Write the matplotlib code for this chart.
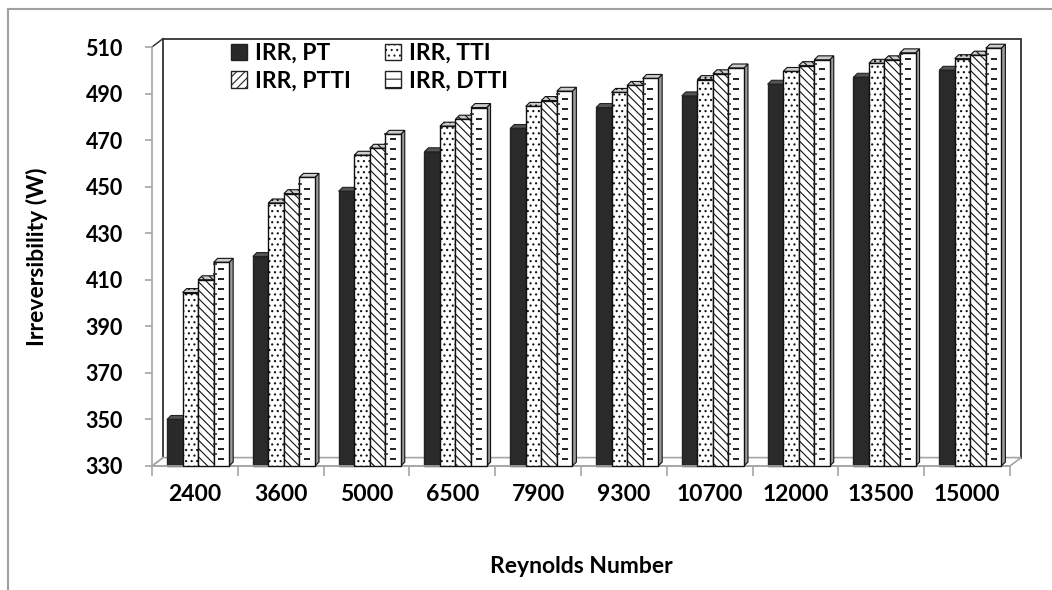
import matplotlib
matplotlib.use("Agg")
import matplotlib.pyplot as plt
from matplotlib.patches import Polygon, Rectangle, Patch
from matplotlib.lines import Line2D
import numpy as np

reynolds = ["2400", "3600", "5000", "6500", "7900", "9300", "10700", "12000", "13500", "15000"]
irr_pt = [350, 420, 448, 465, 475, 484, 489, 494, 497, 500]
irr_tti = [404.5, 443, 463.5, 476, 484.5, 490.5, 496, 499.5, 503, 505]
irr_ptti = [410, 447, 466.5, 479, 487, 493.5, 498.5, 502, 504.5, 506.5]
irr_dtti = [417.5, 454, 472.5, 484, 491, 496.5, 501, 504.5, 507.5, 509.5]
series_names = ["IRR, PT", "IRR, TTI", "IRR, PTTI", "IRR, DTTI"]
y_ticks = list(range(330, 511, 20))

plt.rcParams["font.family"] = ["Lato", "DejaVu Sans"]
plt.rcParams["font.weight"] = "bold"
plt.rcParams["hatch.linewidth"] = 0.8

fig = plt.figure(figsize=(10.52, 5.90), dpi=100)
ax = fig.add_axes([152 / 1052, 124 / 590, 858 / 1052, 419 / 590])
y_min, y_max = y_ticks[0], y_ticks[-1]
n = len(reynolds)
ax.set_xlim(0, n)
ax.set_ylim(y_min, y_max)

grey = "#a6a6a6"
# depth of the floor / back wall and of each column (data units)
wall_dx, wall_dy = 0.128, 3.6
bar_dx, bar_dy = 0.047, 1.7

# back wall
ax.add_patch(Rectangle((wall_dx, y_min + wall_dy), n, y_max - y_min, fill=False,
                       edgecolor="#333333", lw=1.3, clip_on=False, zorder=0))
# floor
ax.add_patch(Polygon([(0, y_min), (n, y_min), (n + wall_dx, y_min + wall_dy), (wall_dx, y_min + wall_dy)],
                     closed=True, facecolor="white", edgecolor=grey, lw=1.2, clip_on=False, zorder=0.5))
ax.plot([0, wall_dx], [y_max, y_max + wall_dy], color="#333333", lw=1.1, clip_on=False, zorder=0.5)
ax.plot([0, wall_dx], [y_min, y_min + wall_dy], color=grey, lw=1.1, clip_on=False, zorder=0.5)

styles = [
    dict(face="#2a2a2a", hatch=None, top="#555555", side="#1c1c1c", edge="#222222"),
    dict(face="white", hatch="...", top="#cccccc", side="#9c9c9c", edge="#111111"),
    dict(face="white", hatch="\\\\\\\\", top="#cccccc", side="#9c9c9c", edge="#111111"),
    dict(face="white", hatch=None, top="#cccccc", side="#9c9c9c", edge="#111111"),
]
series = [irr_pt, irr_tti, irr_ptti, irr_dtti]
bar_w = 0.181
start = 0.175

for i in range(n):
    for j, vals in enumerate(series):
        st = styles[j]
        x0 = i + start + j * bar_w
        v = vals[i]
        z = 2 + j
        x1 = x0 + bar_w
        ax.add_patch(Polygon([(x1, y_min), (x1 + bar_dx, y_min + bar_dy), (x1 + bar_dx, v + bar_dy), (x1, v)],
                             closed=True, facecolor=st["side"], edgecolor=st["edge"], lw=0.8,
                             hatch=st["hatch"], clip_on=False, zorder=z))
        ax.add_patch(Polygon([(x0, v), (x1, v), (x1 + bar_dx, v + bar_dy), (x0 + bar_dx, v + bar_dy)],
                             closed=True, facecolor=st["top"], edgecolor=st["edge"], lw=0.8,
                             hatch=st["hatch"], clip_on=False, zorder=z))
        ax.bar(x0, v - y_min, bottom=y_min, width=bar_w, align="edge", color=st["face"],
               edgecolor=st["edge"], lw=1.0, hatch=st["hatch"], zorder=z, clip_on=False)
        if j == 3:
            # short dashes for the DTTI fill
            ys = np.arange(y_min + 3, v - 1.5, 4.3)
            ax.plot(np.full(len(ys), x0 + bar_w / 2), ys, ls="none", marker="_", ms=5,
                    mew=1.4, color="#222222", zorder=z + 0.1)
            ax.plot(np.full(len(ys), x0 + 0.012), ys + 2.15, ls="none", marker="_", ms=2.5,
                    mew=1.1, color="#222222", zorder=z + 0.1)

# axes
for s in ["top", "right"]:
    ax.spines[s].set_visible(False)
ax.spines["left"].set_color(grey)
ax.spines["bottom"].set_color(grey)
ax.spines["left"].set_linewidth(1.2)
ax.spines["bottom"].set_linewidth(1.2)
ax.set_yticks(y_ticks)
ax.tick_params(axis="y", length=5, color=grey, width=1.2, pad=16, labelsize=15.5)
ax.set_xticks(np.arange(n + 1))
ax.set_xticklabels([])
ax.tick_params(axis="x", which="major", length=7, color=grey, width=1.2)
ax.set_xticks(np.arange(n) + 0.5, minor=True)
ax.set_xticklabels(reynolds, minor=True)
ax.tick_params(axis="x", which="minor", length=0, pad=13, labelsize=16.5)

ax.set_xlabel("Reynolds Number", fontsize=16.5, fontweight="bold", labelpad=37)
ax.set_ylabel("Irreversibility (W)", fontsize=16.5, fontweight="bold", labelpad=27)

handles = [
    Patch(facecolor=styles[0]["face"], edgecolor="#222222"),
    Patch(facecolor="white", edgecolor="#222222", hatch="////"),
    Patch(facecolor="white", edgecolor="#222222", hatch="..."),
    Patch(facecolor="white", edgecolor="#222222", hatch="--"),
]
labels = [series_names[0], series_names[2], series_names[1], series_names[3]]
fig.legend(handles, labels, ncol=2, loc="upper left", bbox_to_anchor=(210 / 1052, 1 - 22 / 590),
           frameon=False, fontsize=16.5, handlelength=0.7, handleheight=0.7, handletextpad=0.35,
           columnspacing=1.5, labelspacing=0.3)

# outer frame of the chart
fig.add_artist(Line2D([8 / 1052, 1], [1 - 9 / 590, 1 - 9 / 590], color="#a0a0a0", lw=1.5))
fig.add_artist(Line2D([8 / 1052, 8 / 1052], [0, 1 - 9 / 590], color="#a0a0a0", lw=1.5))

fig.savefig("out.png", dpi=100)
